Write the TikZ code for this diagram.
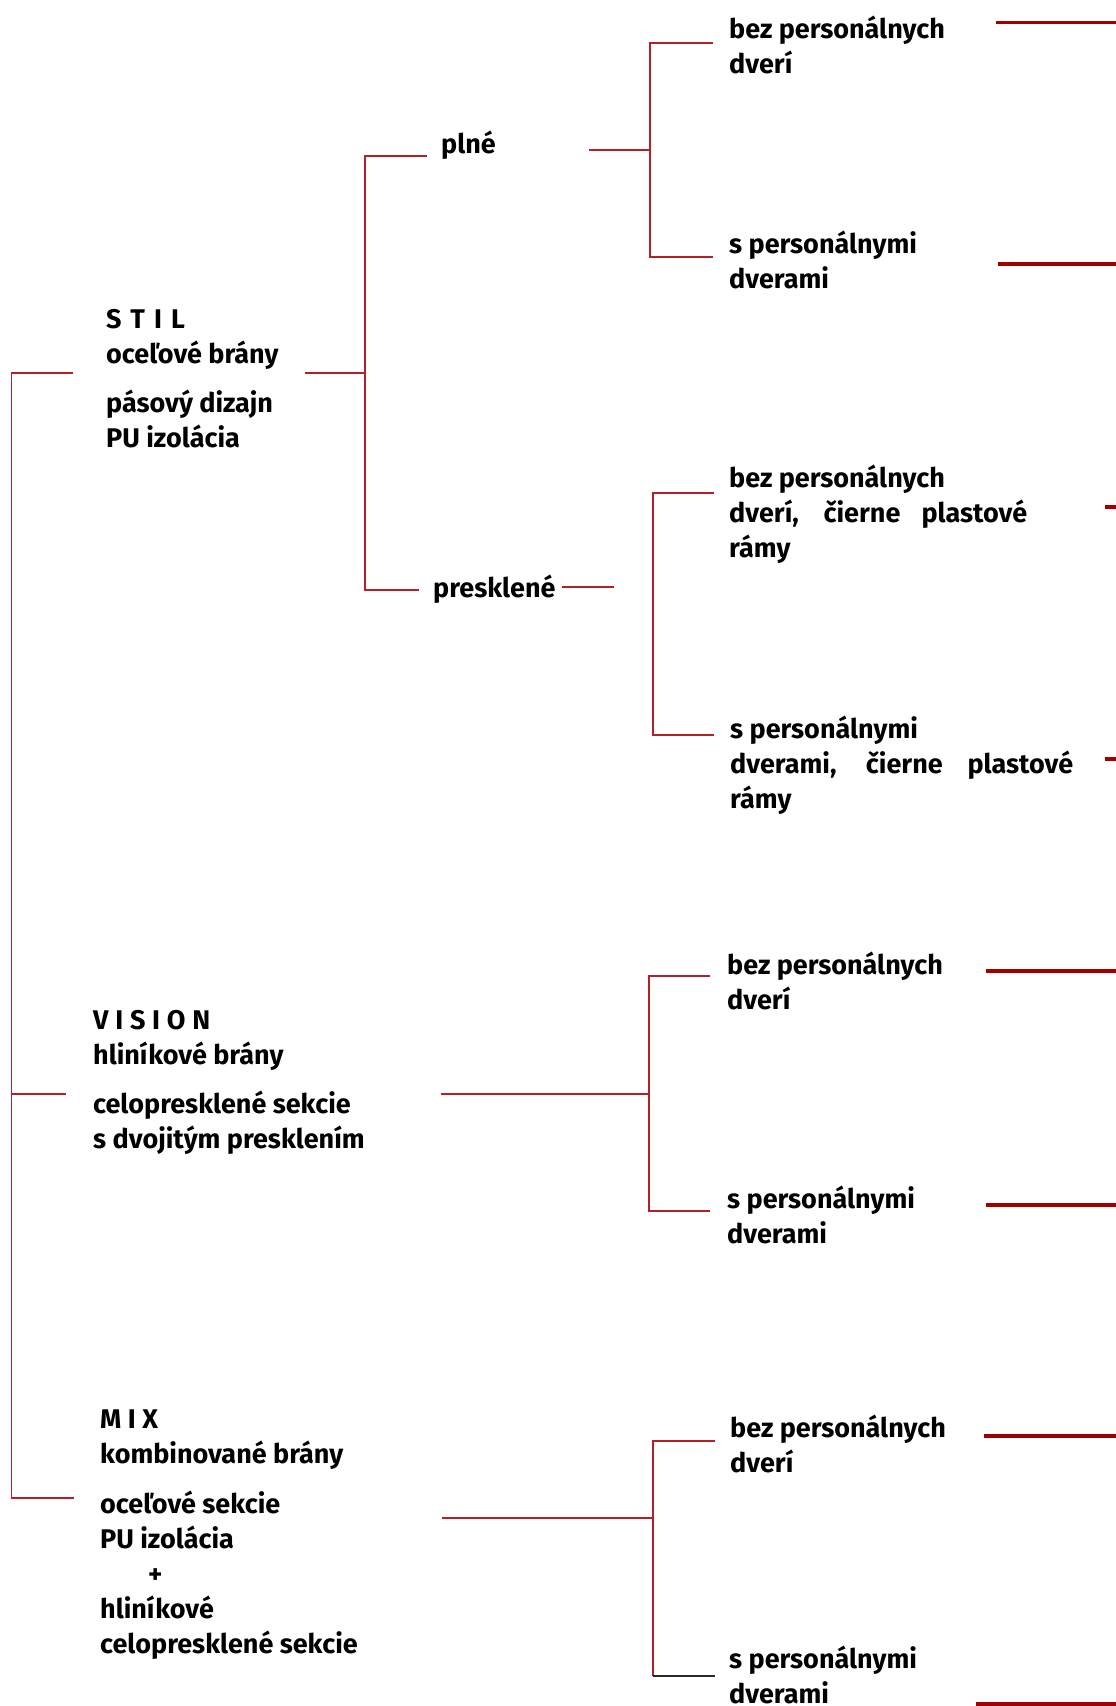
\documentclass[tikz,border=0pt]{standalone}
\usepackage{fontspec}
\setmainfont{Fira Sans}
\definecolor{twigred}{RGB}{180,32,38}
\definecolor{barred}{RGB}{162,0,0}
\definecolor{twigdark}{RGB}{40,40,40}
\begin{document}
\begin{tikzpicture}[x=1pt,y=-1pt,
  twig/.style={draw=twigred, line width=1.4pt},
  bar/.style={draw=barred, line width=3.3pt},
  lbl/.style={anchor=base west, inner sep=0pt, align=left, text=black,
    font=\fontsize{27}{35}\selectfont\bfseries}
]
\useasboundingbox (0,0) rectangle (1116,1706);

% ---------- text nodes (positioned at the baseline of their last line) ----------
\node[lbl] (stil) at (106,447) {{\addfontfeature{LetterSpace=34}STIL}\\ oceľové brány\\[14pt] pásový dizajn\\ PU izolácia};
\node[lbl] (vision) at (93,1148) {{\addfontfeature{LetterSpace=25}VISION}\\ hliníkové brány\\[14pt] celopresklené sekcie\\ s dvojitým presklením};
\node[lbl] (mix) at (100,1653) {{\addfontfeature{LetterSpace=24}MIX}\\ kombinované brány\\[15pt] oceľové sekcie\\ PU izolácia\\ \hspace*{48pt}+\\ hliníkové\\ celopresklené sekcie};

\node[lbl] (plne) at (441,153) {plné};
\node[lbl] (presk) at (433,597) {presklené};

\node[lbl] (l1) at (729,73) {bez personálnych\\ dverí};
\node[lbl] (l2) at (729,288) {s personálnymi\\ dverami};
\node[lbl] (l3) at (729,557) {bez personálnych\\ \makebox[298pt][s]{dverí, čierne plastové}\\ rámy};
\node[lbl] (l4) at (730,808) {s personálnymi\\ \makebox[343pt][s]{dverami, čierne plastové}\\ rámy};
\node[lbl] (l5) at (727,1009) {bez personálnych\\ dverí};
\node[lbl] (l6) at (727,1243) {s personálnymi\\ dverami};
\node[lbl] (l7) at (730,1472) {bez personálnych\\ dverí};
\node[lbl] (l8) at (729,1703) {s personálnymi\\ dverami};

% ---------- root bracket ----------
\coordinate (rTop) at (11.5,373);
\coordinate (rMid) at (11.5,1094);
\coordinate (rBot) at (11.5,1498);
\coordinate (toStil) at (73,373);
\coordinate (toVision) at (66,1094);
\coordinate (toMix) at (74,1498);
\draw[twig] (toStil) -- (rTop) -- (rBot) -- (toMix);
\draw[twig] (rMid) -- (toVision);

% ---------- STIL bracket ----------
\coordinate (sOut) at (305,373);
\coordinate (sJ) at (365,373);
\coordinate (sTop) at (365,156);
\coordinate (sBot) at (365,590);
\coordinate (toPlne) at (427,156);
\coordinate (toPresk) at (419,590);
\draw[twig] (sOut) -- (sJ);
\draw[twig] (toPlne) -- (sTop) -- (sBot) -- (toPresk);

% ---------- plne bracket ----------
\coordinate (pOut) at (589,150);
\coordinate (pJ) at (650,150);
\coordinate (pTop) at (650,43);
\coordinate (pBot) at (650,257);
\coordinate (toL1) at (713,43);
\coordinate (toL2) at (713,257);
\draw[twig] (pOut) -- (pJ);
\draw[twig] (toL1) -- (pTop) -- (pBot) -- (toL2);

% ---------- presklene bracket ----------
\coordinate (qOut) at (562,587);
\coordinate (qEnd) at (614,587);
\coordinate (qTop) at (653,493);
\coordinate (qBot) at (653,735);
\coordinate (toL3) at (714,493);
\coordinate (toL4) at (714,735);
\draw[twig] (qOut) -- (qEnd);
\draw[twig] (toL3) -- (qTop) -- (qBot) -- (toL4);

% ---------- VISION bracket ----------
\coordinate (vOut) at (441,1094);
\coordinate (vJ) at (649,1094);
\coordinate (vTop) at (649,976);
\coordinate (vBot) at (649,1211);
\coordinate (toL5) at (710,976);
\coordinate (toL6) at (710,1211);
\draw[twig] (vOut) -- (vJ);
\draw[twig] (toL5) -- (vTop) -- (vBot) -- (toL6);

% ---------- MIX bracket ----------
\coordinate (mOut) at (442,1518);
\coordinate (mJ) at (653,1518);
\coordinate (mTop) at (653,1441);
\coordinate (mBot) at (653,1676);
\coordinate (toL7) at (715,1441);
\coordinate (toL8) at (715,1676);
\draw[twig] (mOut) -- (mJ);
\draw[twig] (toL7) -- (mTop) -- (mBot);
\draw[twig, draw=twigdark] (mBot) -- (toL8);

% ---------- thick red bars ----------
\coordinate (b1s) at (996,22.7);  \coordinate (b1e) at (1116,22.7);
\coordinate (b2s) at (998,264);   \coordinate (b2e) at (1116,264);
\coordinate (b3s) at (1105,507);  \coordinate (b3e) at (1116,507);
\coordinate (b4s) at (1105,759);  \coordinate (b4e) at (1116,759);
\coordinate (b5s) at (986,971);   \coordinate (b5e) at (1116,971);
\coordinate (b6s) at (986,1205);  \coordinate (b6e) at (1116,1205);
\coordinate (b7s) at (984,1436);  \coordinate (b7e) at (1116,1436);
\coordinate (b8s) at (976,1704);  \coordinate (b8e) at (1116,1704);
\foreach \i in {1,...,8}{\draw[bar] (b\i s) -- (b\i e);}
\end{tikzpicture}
\end{document}
